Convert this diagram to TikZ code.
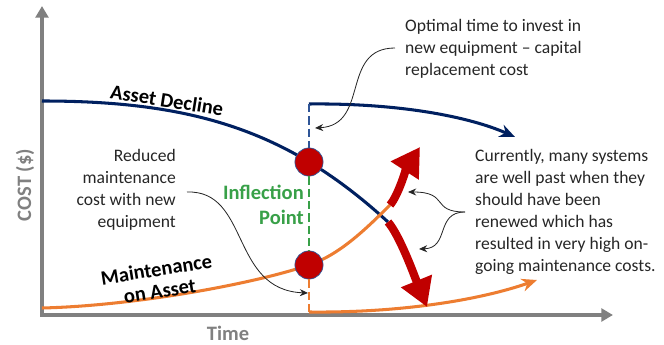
\documentclass[tikz,border=0pt]{standalone}
\usepackage{fontspec}
\setmainfont{Carlito}
\usetikzlibrary{arrows.meta}
\definecolor{navy}{HTML}{002060}
\definecolor{dashblue}{HTML}{2F5597}
\definecolor{orng}{HTML}{ED7D31}
\definecolor{darkred}{HTML}{C00000}
\definecolor{infgreen}{RGB}{56,160,72}
\definecolor{axisgray}{HTML}{808080}
\definecolor{txt}{HTML}{262626}
\tikzstyle{axis} = [line width=3.8pt, draw=axisgray, {Triangle[length=10pt,width=11pt]}-{Triangle[length=10pt,width=11pt]}]
\tikzstyle{decline} = [line width=2.6pt, draw=navy]
\tikzstyle{maint} = [line width=2.6pt, draw=orng]
\tikzstyle{newcurve} = [-{Stealth[length=13pt,width=11pt]}]
\tikzstyle{bigarrow} = [line width=7pt, draw=darkred, -{Triangle[length=24pt,width=27pt]}]
\tikzstyle{note} = [line width=0.7pt, draw=black!85, -{Stealth[length=7pt,width=6pt]}]
\tikzstyle{dashline} = [line width=1.8pt, dash pattern=on 7pt off 3.5pt]
\tikzstyle{dot} = [circle, fill=darkred, draw=dashblue, line width=0.6pt, minimum size=24pt, inner sep=0pt]
\tikzstyle{txtnode} = [inner sep=0pt, text=txt, font=\fontsize{15}{18.8}\selectfont]
\tikzstyle{lbl} = [inner sep=0pt, font=\bfseries\fontsize{17.5}{21}\selectfont]

\begin{document}
\begin{tikzpicture}[x=0.03cm, y=-0.03cm]
		\useasboundingbox (0,0) rectangle (664,345);
		\coordinate (ytop) at (42,6);
		\coordinate (orig) at (42,315);
		\coordinate (xend) at (613,315);
		\draw [axis] (ytop) -- (orig) -- (xend);
		\node (cost) [lbl, text=axisgray, rotate=90] at (25,185) {COST (\$)};
		\node (time) [lbl, text=axisgray] at (228,333) {Time};
		\coordinate (ad0) at (42,101);
		\coordinate (ad1) at (388,222);
		\coordinate (m0) at (42,308);
		\coordinate (m1) at (390,205);
		\coordinate (p1) at (309,162);
		\coordinate (p2) at (309,265);
		\coordinate (nb0) at (309,104);
		\coordinate (nb1) at (515,137);
		\coordinate (nm0) at (309,312);
		\coordinate (nm1) at (537,280);
		\draw [decline] (ad0) .. controls (192,101) and (288,130) .. (ad1);
		\draw [maint] (m0) .. controls (130,306) and (250,285) .. (p2) .. controls (339,255) and (365,230) .. (m1);
		\draw [decline, newcurve] (nb0) .. controls (400,103) and (470,117) .. (nb1);
		\draw [maint, newcurve] (nm0) .. controls (400,313) and (480,300) .. (nm1);
		\node (c1) [dot] at (p1) {};
		\node (c2) [dot] at (p2) {};
		\draw [dashline, draw=dashblue] (nb0) -- (c1);
		\draw [dashline, draw=infgreen] (c1) -- (c2);
		\draw [dashline, draw=orng] (c2) -- (nm0);
		\coordinate (rd) at (427,307);
		\coordinate (ru) at (420,147);
		\draw [bigarrow] (ad1) .. controls (400,236) and (414,275) .. (rd);
		\draw [bigarrow] (m1) .. controls (398,196) and (407,167) .. (ru);
		\node (decl) [lbl, rotate=-9] at (167,100) {Asset Decline};
		\node (mlbl) [lbl, rotate=9, align=center, font=\bfseries\fontsize{17.5}{18.5}\selectfont] at (158,280) {Maintenance\\on Asset};
		\node (infl) [lbl, text=infgreen, align=right, anchor=east] at (304,205) {Inflection\\Point};
		\node (reduced) [txtnode, align=right, anchor=east] at (176,190) {Reduced\\maintenance\\cost with new\\equipment};
		\node (optimal) [txtnode, align=left, anchor=west] at (405,49) {Optimal time to invest in\\new equipment -- capital\\replacement cost};
		\node (current) [txtnode, align=left, anchor=west] at (475,212) {Currently, many systems\\are well past when they\\should have been\\renewed which has\\resulted in very high on-\\going maintenance costs.};
		\coordinate (r0) at (187,192);
		\coordinate (r1) at (308,293);
		\draw [note] (r0) .. controls (250,190) and (230,290) .. (r1);
		\coordinate (o0) at (395,48);
		\coordinate (o1) at (315,128);
		\draw [note] (o0) .. controls (340,48) and (370,125) .. (o1);
		\coordinate (cj) at (465,212);
		\coordinate (cu) at (408,192);
		\coordinate (cl) at (419,249);
		\draw [note] (cj) .. controls (430,212) and (450,192) .. (cu);
		\draw [note] (cj) .. controls (435,212) and (450,248) .. (cl);
\end{tikzpicture}
\end{document}
